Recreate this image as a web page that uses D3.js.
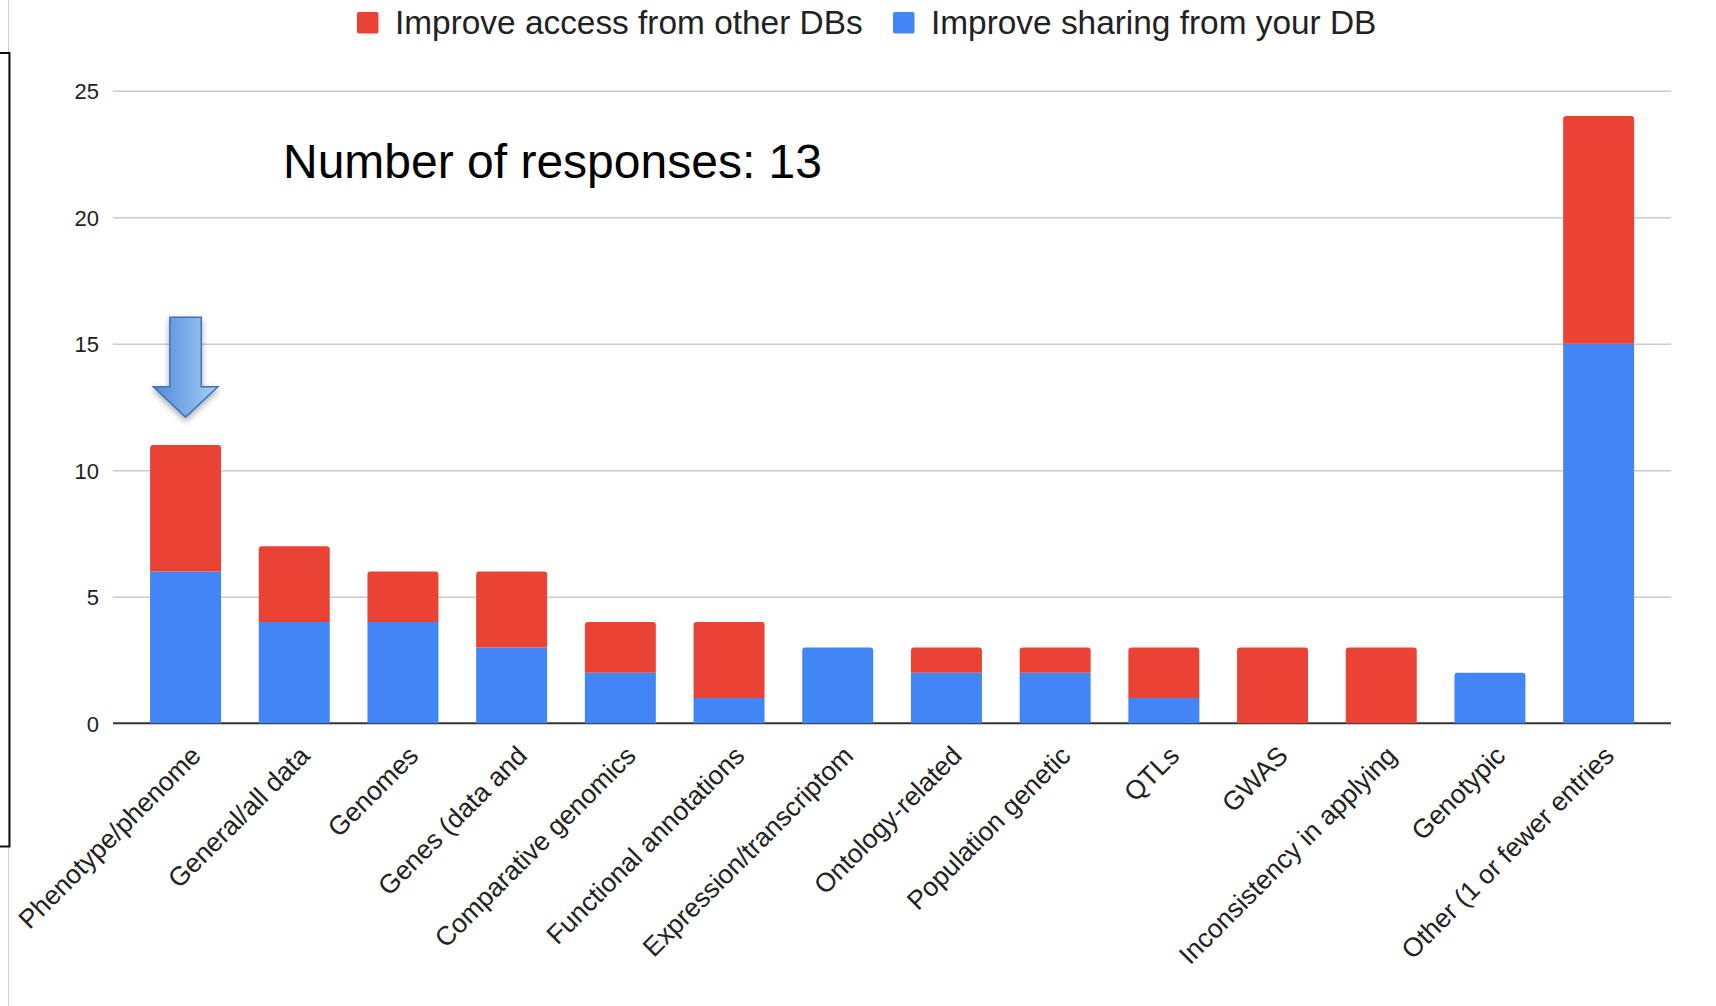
<!DOCTYPE html>
<html>
<head>
<meta charset="utf-8">
<script src="https://cdn.jsdelivr.net/npm/d3@7"></script>
<style>
  html, body { margin: 0; padding: 0; background: #ffffff; }
  svg { display: block; font-family: "Liberation Sans", Arial, Helvetica, sans-serif; }
</style>
</head>
<body>
<svg id="chart" width="1716" height="1006"></svg>
<script>
// Categories of data the databases want to exchange
const categories = [
  "Phenotype/phenome",
  "General/all data",
  "Genomes",
  "Genes (data and",
  "Comparative genomics",
  "Functional annotations",
  "Expression/transcriptom",
  "Ontology-related",
  "Population genetic",
  "QTLs",
  "GWAS",
  "Inconsistency in applying",
  "Genotypic",
  "Other (1 or fewer entries"
];

// Stacked series: sharing (bottom) and access (top)
const sharingValues = [6, 4, 4, 3, 2, 1, 3, 2, 2, 1, 0, 0, 2, 15];
const accessValues  = [5, 3, 2, 3, 2, 3, 0, 1, 1, 2, 3, 3, 0, 9];

const seriesNames = ["Improve access from other DBs", "Improve sharing from your DB"];
const seriesColors = ["#EA4335", "#4285F4"];

const yTicks = [0, 5, 10, 15, 20, 25];
const titleText = "Number of responses: 13";

const svg = d3.select("#chart");

// Plot geometry
const plotLeft = 113, plotRight = 1671;
const yScale = d3.scaleLinear().domain([0, 25]).range([723.3, 90.8]);
const xScale = d3.scaleBand()
  .domain(categories)
  .range([131.2, 1653])
  .paddingInner(0.347)
  .paddingOuter(0.1735);

// Left bracket frame
svg.append("line")
  .attr("x1", 8.5).attr("x2", 8.5).attr("y1", 0).attr("y2", 1006)
  .attr("stroke", "#cfcfcf").attr("stroke-width", 1);
svg.append("path")
  .attr("d", "M0,53 H9.5 V846.5 H0")
  .attr("fill", "none").attr("stroke", "#111").attr("stroke-width", 2);

// Gridlines and y tick labels
const yAxis = d3.axisLeft(yScale).tickValues(yTicks).tickSize(0).tickPadding(0);
const yg = svg.append("g").attr("transform", `translate(${plotLeft},0)`).call(yAxis);
yg.select(".domain").remove();
yg.selectAll(".tick text")
  .attr("x", 99 - plotLeft)
  .attr("dy", "0.35em")
  .attr("fill", "#222")
  .style("font-size", "22px")
  .style("font-family", "'Liberation Sans', Arial, sans-serif");
yg.selectAll(".tick")
  .filter(d => d !== 0)
  .append("line")
  .attr("x1", 0).attr("x2", plotRight - plotLeft)
  .attr("stroke", "#cccccc").attr("stroke-width", 1.6);

// Baseline
svg.append("line")
  .attr("x1", plotLeft).attr("x2", plotRight)
  .attr("y1", yScale(0)).attr("y2", yScale(0))
  .attr("stroke", "#333").attr("stroke-width", 2);

// Stacked bars
const rows = categories.map((c, i) => ({ cat: c, sharing: sharingValues[i], access: accessValues[i] }));
const stack = d3.stack().keys(["sharing", "access"])(rows);
const colorByKey = { sharing: seriesColors[1], access: seriesColors[0] };

function topRoundedRect(x, y, w, h, r) {
  r = Math.min(r, h, w / 2);
  return `M${x},${y + h} V${y + r} Q${x},${y} ${x + r},${y} H${x + w - r} Q${x + w},${y} ${x + w},${y + r} V${y + h} Z`;
}

const bars = svg.append("g");
stack.forEach(layer => {
  layer.forEach((seg, i) => {
    const v0 = seg[0], v1 = seg[1];
    if (v1 - v0 <= 0) return;
    const total = rows[i].sharing + rows[i].access;
    const x = xScale(rows[i].cat);
    const w = xScale.bandwidth();
    const yTop = yScale(v1);
    const h = yScale(v0) - yTop;
    const isTop = v1 === total;
    bars.append("path")
      .attr("d", isTop ? topRoundedRect(x, yTop, w, h, 3) : `M${x},${yTop}h${w}v${h}h${-w}Z`)
      .attr("fill", colorByKey[layer.key]);
  });
});

// Category labels, rotated
const xAxis = d3.axisBottom(xScale).tickSize(0).tickPadding(0);
const xg = svg.append("g").attr("transform", `translate(0,${yScale(0)})`).call(xAxis);
xg.select(".domain").remove();
xg.selectAll(".tick text")
  .attr("x", null).attr("y", null).attr("dy", null)
  .attr("text-anchor", "end")
  .attr("transform", "translate(17,34) rotate(-45)")
  .attr("fill", "#222")
  .style("font-size", "26.5px")
  .style("font-family", "'Liberation Sans', Arial, sans-serif");

// Legend
const legendItems = [
  { name: seriesNames[0], color: seriesColors[0], sx: 357, tx: 395 },
  { name: seriesNames[1], color: seriesColors[1], sx: 893, tx: 931 }
];
const legend = svg.append("g");
legendItems.forEach(item => {
  legend.append("rect")
    .attr("x", item.sx).attr("y", 12).attr("width", 21.5).attr("height", 21.5)
    .attr("rx", 2).attr("fill", item.color);
  legend.append("text")
    .attr("x", item.tx).attr("y", 34)
    .attr("fill", "#222")
    .style("font-size", "33.4px")
    .text(item.name);
});

// Headline annotation
svg.append("text")
  .attr("x", 283).attr("y", 178)
  .attr("fill", "#000")
  .style("font-size", "48px")
  .text(titleText);

// Arrow pointing at the first category
const defs = svg.append("defs");
const grad = defs.append("linearGradient").attr("id", "arrowFill")
  .attr("x1", "0%").attr("x2", "100%").attr("y1", "0%").attr("y2", "0%");
grad.append("stop").attr("offset", "0%").attr("stop-color", "#4f89d9");
grad.append("stop").attr("offset", "100%").attr("stop-color", "#a6cff8");
const shadow = defs.append("filter").attr("id", "arrowShadow")
  .attr("x", "-50%").attr("y", "-50%").attr("width", "200%").attr("height", "200%");
shadow.append("feDropShadow").attr("dx", 0).attr("dy", 3).attr("stdDeviation", 3)
  .attr("flood-color", "#000").attr("flood-opacity", 0.35);

const ax = xScale(categories[0]) + xScale.bandwidth() / 2;
const aTop = yScale(16.05), aNeck = yScale(13.3), aTip = yScale(12.1);
const shaftHalf = 15.7, headHalf = 32.3;
svg.append("path")
  .attr("d", `M${ax - shaftHalf},${aTop} H${ax + shaftHalf} V${aNeck} H${ax + headHalf} L${ax},${aTip} L${ax - headHalf},${aNeck} H${ax - shaftHalf} Z`)
  .attr("fill", "url(#arrowFill)")
  .attr("stroke", "#3f72b8").attr("stroke-width", 1.5)
  .attr("stroke-linejoin", "miter")
  .attr("filter", "url(#arrowShadow)");
</script>
</body>
</html>
